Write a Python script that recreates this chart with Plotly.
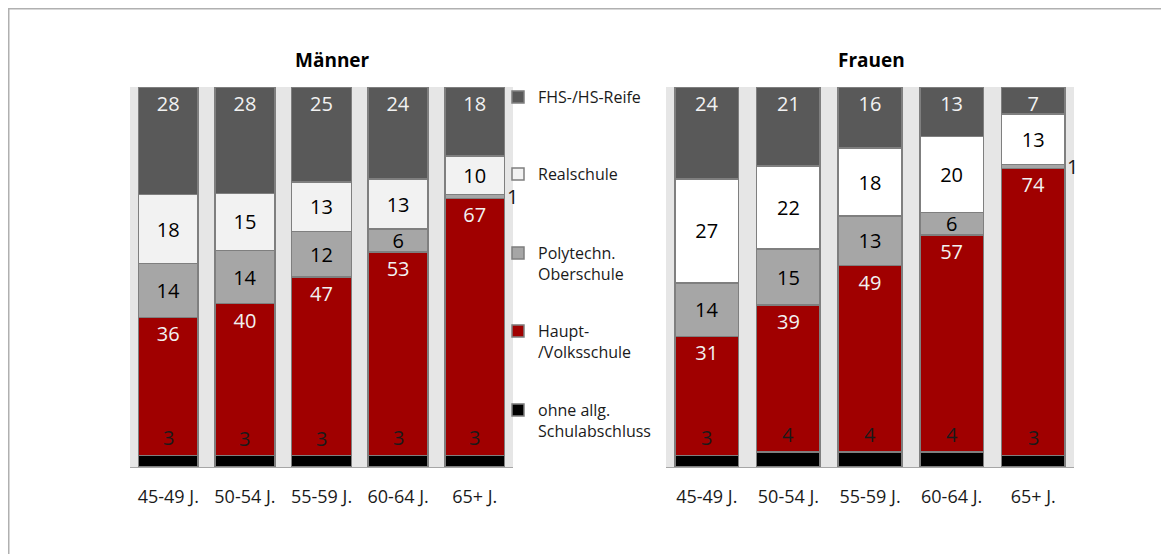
import plotly.graph_objects as go

# ---------------- data ----------------
categories = ["45-49 J.", "50-54 J.", "55-59 J.", "60-64 J.", "65+ J."]
series_names = ["ohne allg.<br>Schulabschluss", "Haupt-<br>/Volksschule",
                "Polytechn.<br>Oberschule", "Realschule", "FHS-/HS-Reife"]

maenner_ohne = [3, 3, 3, 3, 3]
maenner_haupt = [36, 40, 47, 53, 67]
maenner_poly = [14, 14, 12, 6, 1]
maenner_real = [18, 15, 13, 13, 10]
maenner_fhs = [28, 28, 25, 24, 18]

frauen_ohne = [3, 4, 4, 4, 3]
frauen_haupt = [31, 39, 49, 57, 74]
frauen_poly = [14, 15, 13, 6, 1]
frauen_real = [27, 22, 18, 20, 13]
frauen_fhs = [24, 21, 16, 13, 7]

panel_titles = ["Männer", "Frauen"]

# ---------------- styling ----------------
OFF = 8  # page body margin
W, H = 1169 - OFF, 554 - OFF
FONT = "Open Sans, sans-serif"
colors_m = ["#000000", "#a00000", "#a6a6a6", "#f2f2f2", "#595959"]
colors_f = ["#000000", "#a00000", "#a6a6a6", "#ffffff", "#595959"]
label_colors = ["#1a1a1a", "#f2f2f2", "#000000", "#000000", "#f2f2f2"]
anchors = ["middle", "end", "middle", "middle", "end"]


def px_x(p):
    return (p - OFF) / W


def px_y(p):
    return 1 - (p - OFF) / H


fig = go.Figure()

panels = [
    ("x", "y", [maenner_ohne, maenner_haupt, maenner_poly, maenner_real, maenner_fhs], colors_m),
    ("x2", "y2", [frauen_ohne, frauen_haupt, frauen_poly, frauen_real, frauen_fhs], colors_f),
]

legend_ids = ["legend5", "legend4", "legend3", "legend2", "legend"]

annotations = []
for pi, (xa, ya, series, cols) in enumerate(panels):
    totals = [sum(v) for v in zip(*series)]
    for si, (name, vals) in enumerate(zip(series_names, series)):
        if si == 0:
            texts = None
            tpos = "none"
        else:
            texts = [str(v) if v >= 3 else "" for v in vals]
            tpos = "inside"
        fig.add_trace(go.Bar(
            x=categories, y=vals, name=name, xaxis=xa, yaxis=ya,
            marker=dict(color=cols[si], line=dict(color="#7f7f7f", width=1.5)),
            text=texts, textposition=tpos, textangle=0,
            insidetextanchor=anchors[si],
            textfont=dict(family=FONT, size=20, color=label_colors[si]),
            showlegend=(pi == 0), legend=legend_ids[si],
            hoverinfo="skip",
        ))
    for ci, cat in enumerate(categories):
        # label of the bottom series, above the black segment
        ytop = series[0][ci] / totals[ci] * 100
        annotations.append(dict(
            x=cat, y=ytop, xref=xa, yref=ya, text=str(series[0][ci]),
            showarrow=False, yanchor="bottom", yshift=2,
            font=dict(family=FONT, size=20, color="#1a1a1a")))
        # small values drawn right of the bar
        for si in range(1, 5):
            v = series[si][ci]
            base = sum(series[k][ci] for k in range(si))
            if v < 3:
                mid = (base + v / 2) / totals[ci] * 100
                annotations.append(dict(
                    x=cat, y=mid, xref=xa, yref=ya, text=str(v),
                    showarrow=False, xanchor="left", yanchor="middle",
                    xshift=30 if pi == 0 else 32,
                    font=dict(family=FONT, size=20, color="#1a1a1a")))

# panel titles
for title, xc in zip(panel_titles, [332, 871]):
    annotations.append(dict(
        x=px_x(xc), y=px_y(60), xref="paper", yref="paper",
        text=f"<b>{title}</b>", showarrow=False,
        xanchor="center", yanchor="middle",
        font=dict(family=FONT, size=19, color="#000000")))

legend_tops = {"legend": 97, "legend2": 174, "legend3": 253, "legend4": 331, "legend5": 410}
legend_layout = {}
for lid, yc in legend_tops.items():
    legend_layout[lid] = dict(
        x=px_x(498), y=px_y(yc - 17), xanchor="left", yanchor="top",
        bgcolor="rgba(0,0,0,0)", valign="top",
        font=dict(family=FONT, size=16, color="#1a1a1a"),
        itemclick=False, itemdoubleclick=False)

axis_common = dict(type="category", showgrid=False, zeroline=False,
                   range=[-0.5, len(categories) - 0.5], autorange=False,
                   showline=True, linecolor="#a6a6a6", linewidth=1,
                   ticks="", ticklabelstandoff=13,
                   tickfont=dict(family=FONT, size=18, color="#1a1a1a"))
yaxis_common = dict(range=[0, 100], autorange=False, showgrid=False, zeroline=False,
                    showticklabels=False, showline=False,
                    domain=[px_y(467), px_y(87)])

fig.update_layout(
    width=W, height=H, margin=dict(l=0, r=0, t=0, b=0),
    paper_bgcolor="#ffffff", plot_bgcolor="#e6e6e6",
    barmode="stack", barnorm="percent", bargap=0.22,
    uniformtext=dict(minsize=20, mode="show"),
    xaxis=dict(domain=[px_x(130), px_x(513)], anchor="y", **axis_common),
    xaxis2=dict(domain=[px_x(666), px_x(1074)], anchor="y2", **axis_common),
    yaxis=dict(anchor="x", **yaxis_common),
    yaxis2=dict(anchor="x2", **yaxis_common),
    annotations=annotations,
    shapes=[dict(type="rect", xref="paper", yref="paper",
                 x0=px_x(8.75), x1=1.02, y0=-0.02, y1=px_y(8.75),
                 line=dict(color="#b0b0b0", width=1.5))],
    font=dict(family=FONT),
    **legend_layout,
)

fig.write_html("out.html")
